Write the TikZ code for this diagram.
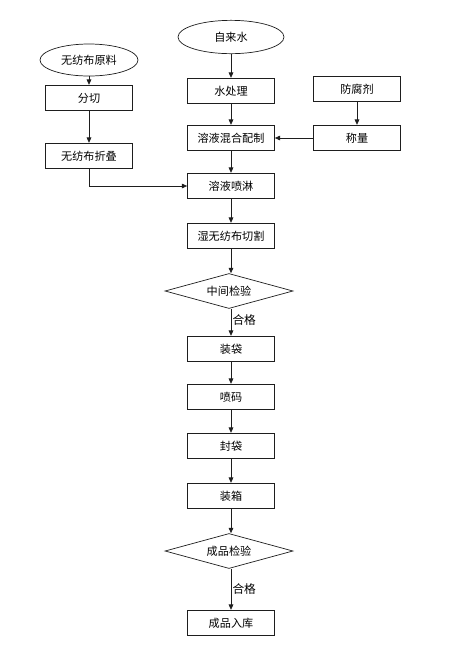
\documentclass[tikz,border=0pt]{standalone}
\usepackage{fontspec}
\setmainfont{Noto Sans CJK SC}
\usetikzlibrary{arrows.meta,shapes.geometric}
\definecolor{ink}{RGB}{30,30,30}
\tikzset{
  >={Triangle[length=1.6mm,width=1.4mm]},
  stepbox/.style={draw=ink,line width=0.6pt,minimum width=26.1mm,minimum height=7.7mm,
    align=center,font=\fontsize{9.5}{11}\selectfont,inner sep=1pt},
  stepbox/.default=ink,
  source/.style={ellipse,draw=ink,line width=0.6pt,minimum width=#1,minimum height=10mm,
    font=\fontsize{9.5}{11}\selectfont,inner sep=0pt},
  source/.default=30mm,
  check/.style={diamond,draw=ink,line width=0.6pt,aspect=3.6,minimum width=38.4mm,
    minimum height=10.5mm,font=\fontsize{9.5}{11}\selectfont,inner sep=0pt},
  flow/.style={->,line width=0.6pt,draw=ink},
  tag/.style={font=\fontsize{10}{12}\selectfont,anchor=west,inner sep=1pt},
}
\begin{document}
\begin{tikzpicture}[x=0.03cm,y=-0.03cm]
  \useasboundingbox (0,0) rectangle (452,661);
  % left column
  \node[source=29.4mm,minimum height=9.6mm] (raw) at (89,60) {无纺布原料};
  \node[stepbox] (cut) at (89,98) {分切};
  \node[stepbox] (fold) at (89,156) {无纺布折叠};
  % right column
  \node[stepbox] (agent) at (357,89) {防腐剂};
  \node[stepbox] (weigh) at (357,138) {称量};
  % main column
  \node[source=31.8mm] (water) at (231,37) {自来水};
  \node[stepbox] (treat) at (231,91) {水处理};
  \node[stepbox] (mix) at (231,138) {溶液混合配制};
  \node[stepbox] (spray) at (231,186) {溶液喷淋};
  \node[stepbox] (wet) at (231,236) {湿无纺布切割};
  \node[check] (mid) at (229,291) {中间检验};
  \node[stepbox] (bag) at (231,349) {装袋};
  \node[stepbox] (code) at (231,397) {喷码};
  \node[stepbox] (seal) at (231,446) {封袋};
  \node[stepbox] (box) at (231,496) {装箱};
  \node[check] (final) at (229,551) {成品检验};
  \node[stepbox] (store) at (231,623) {成品入库};
  % connectors
  \draw[flow] (raw) -- (cut);
  \draw[flow] (cut) -- (fold);
  \draw[flow] (fold.south) |- (spray.west);
  \draw[flow] (agent) -- (weigh);
  \draw[flow] (weigh) -- (mix);
  \draw[flow] (water) -- (treat);
  \draw[flow] (treat) -- (mix);
  \draw[flow] (mix) -- (spray);
  \draw[flow] (spray) -- (wet);
  \draw[flow] (wet.south) -- (wet.south |- mid.north);
  \draw[flow] (wet.south |- mid.south) -- node[tag,pos=0.4] (ok1) {合格} (bag.north);
  \draw[flow] (bag) -- (code);
  \draw[flow] (code) -- (seal);
  \draw[flow] (seal) -- (box);
  \draw[flow] (box.south) -- (box.south |- final.north);
  \draw[flow] (box.south |- final.south) -- node[tag,pos=0.5] (ok2) {合格} (store.north);
\end{tikzpicture}
\end{document}
